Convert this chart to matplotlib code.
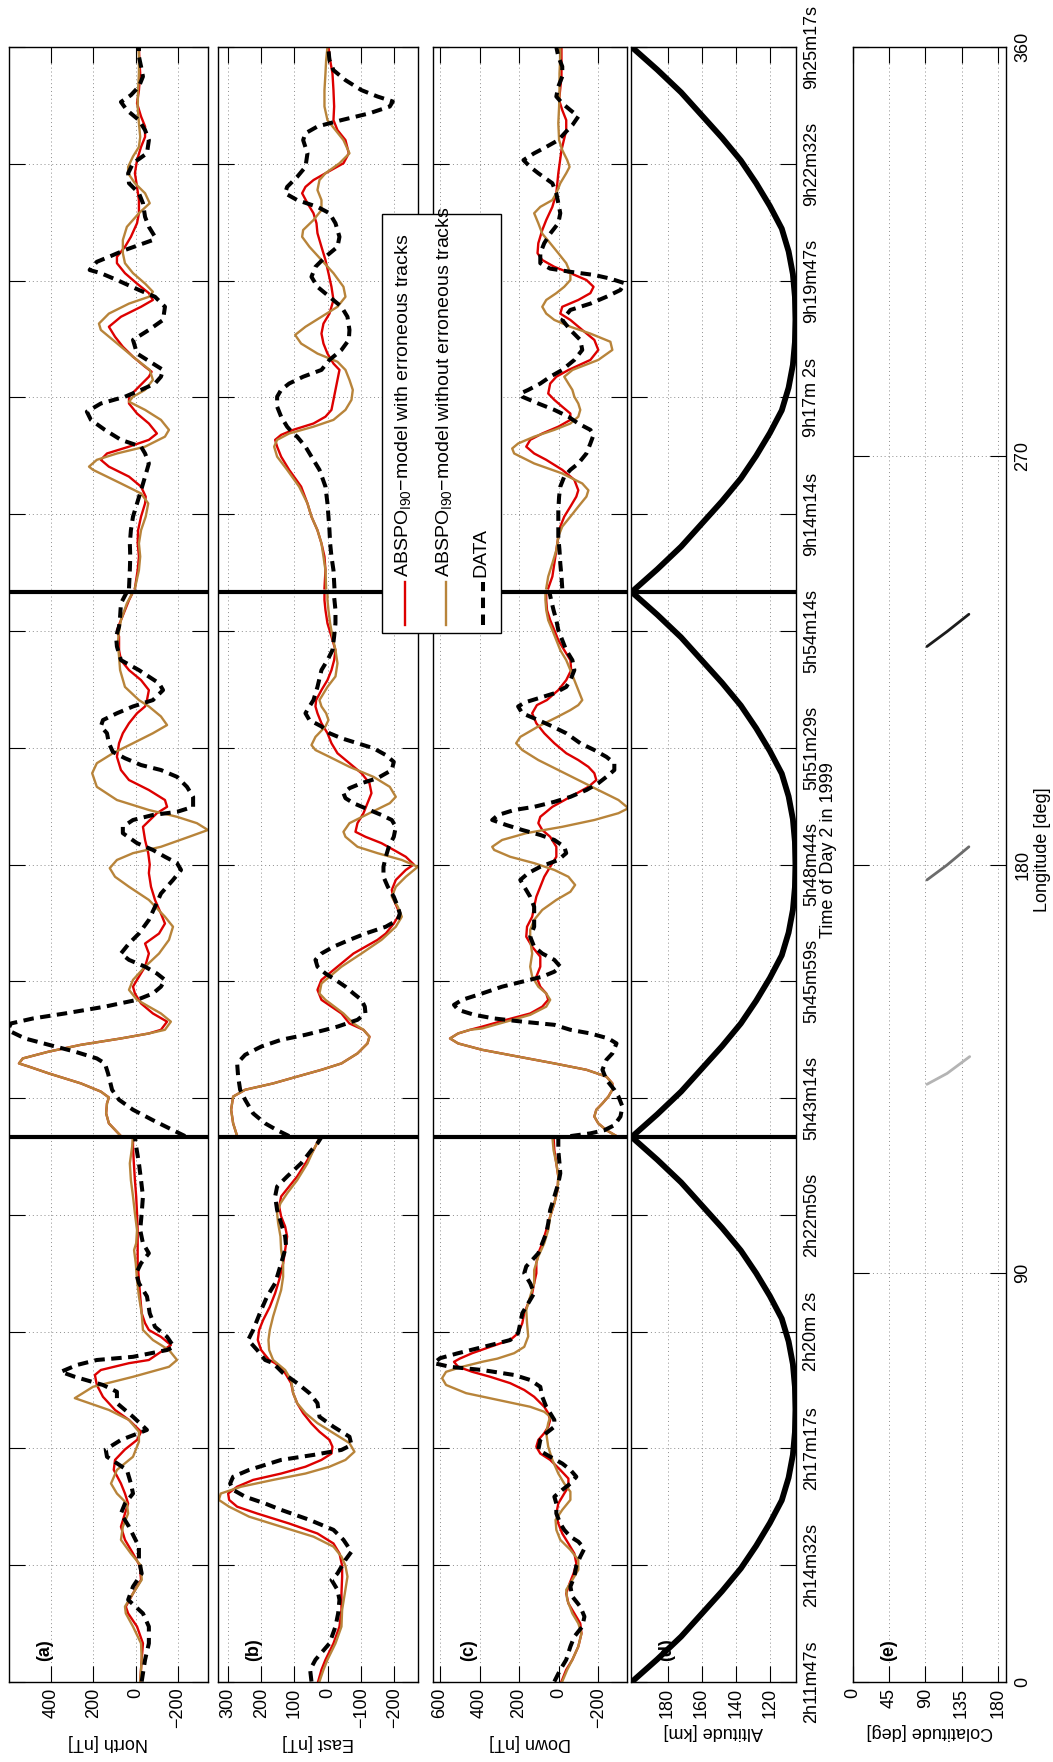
import numpy as np
import matplotlib
matplotlib.use("Agg")
import matplotlib.pyplot as plt
from matplotlib.patches import Rectangle
from matplotlib.lines import Line2D

plt.rcParams['font.family'] = ['Liberation Sans', 'DejaVu Sans']
plt.rcParams['mathtext.fontset'] = 'custom'
plt.rcParams['mathtext.rm'] = 'Liberation Sans'
plt.rcParams['mathtext.it'] = 'Liberation Sans:italic'
plt.rcParams['font.size'] = 13

# position along the three concatenated passes (0-360, 120 per pass)
time_ticks = np.arange(15) * 360 / 14
time_labels = ['2h11m47s', '2h14m32s', '2h17m17s', '2h20m 2s', '2h22m50s',
               '5h43m14s', '5h45m59s', '5h48m44s', '5h51m29s', '5h54m14s',
               '9h14m14s', '9h17m 2s', '9h19m47s', '9h22m32s', '9h25m17s']
lon_ticks = [0, 90, 180, 270, 360]

# (position, nT)
north_red = np.array([
    (0.1,-21),(4.9,-28),(8.5,-34),(12.2,-6),(15.1,36),(16.6,47),(19.5,13),(22.5,-25),(25.6,-19),(28.3,13),
    (31.3,51),(34.2,70),(37.1,51),(39.3,36),(41.5,51),(43.7,70),(46.7,104),(48.9,98),(51.2,51),(53.3,-6),
    (55.1,-25),(57.7,32),(59.9,98),(62.8,155),(65.4,184),(67.6,193),(68.7,165),(70.2,32),(70.9,-62),(72.7,-119),
    (74.2,-166),(76.0,-119),(77.5,-62),(79.0,-44),(81.2,-28),(84.9,-21),(88.5,-15),(92.2,-9),(99.5,-9),(103.2,-6),
    (106.9,-2),(110.5,4),(114.2,9),(117.9,13),(120.0,13),
    (120.2,70),(123.0,127),(125.2,140),(127.4,136),(128.7,127),(130.0,165),(131.8,259),(134.0,411),(135.5,505),(136.2,552),
    (137.3,534),(138.8,411),(140.3,259),(141.7,70),(142.8,-62),(143.6,-119),(145.4,-148),(147.2,-81),(149.4,-25),(151.6,4),
    (153.1,13),(154.6,-6),(157.5,-44),(160.4,-62),(162.6,-44),(164.8,-110),(167.0,-138),(169.2,-119),(172.2,-91),(175.1,-72),
    (178.1,-62),(180.0,-66),(182.5,-59),(185.4,-44),(188.3,-34),(191.3,-100),(192.7,-148),(194.2,-138),(196.4,-62),(198.6,32),
    (200.8,70),(203.7,89),(206.7,79),(208.9,61),(211.1,32),(213.3,-6),(214.8,-44),(216.2,-53),(218.4,-62),(220.6,-25),
    (222.8,32),(225.0,70),(227.2,79),(230.2,79),(231.6,89),(233.8,70),(236.0,51),(238.2,32),(240.0,13),
    (240.8,4),(244.8,-9),(247.8,-15),(250.7,-9),(253.6,-11),(256.6,-25),(259.5,-44),(261.0,-47),(263.2,-25),(265.4,32),
    (267.6,127),(269.1,165),(270.5,136),(272.0,32),(273.5,-62),(274.9,-100),(277.1,-62),(279.3,-6),(281.5,32),(283.0,32),
    (285.2,-15),(287.4,-62),(288.5,-75),(289.6,-44),(291.8,13),(294.0,61),(296.2,98),(298.4,127),(300.6,70),(302.8,-25),
    (304.3,-81),(305.8,-62),(307.9,-6),(310.2,51),(312.4,89),(313.8,89),(316.0,51),(318.2,23),(321.2,-6),(323.4,-15),
    (326.3,-15),(329.2,-6),(332.2,4),(335.1,-6),(338.0,-25),(340.2,-44),(342.5,-44),(344.7,-25),(347.6,-6),(350.5,-15),
    (354.2,-21),(357.1,-17),(360.0,-15)])

north_brown = np.array([
    (0.1,-21),(4.9,-28),(8.5,-25),(12.2,13),(15.1,47),(16.6,51),(19.5,13),(22.5,-28),(25.6,-25),(28.3,23),
    (31.3,70),(34.2,61),(37.1,36),(39.3,42),(41.5,89),(43.7,117),(46.7,89),(49.6,13),(52.9,-15),(55.1,-15),
    (57.7,32),(59.9,127),(62.5,288),(65.0,202),(67.2,13),(69.4,-157),(70.9,-195),(73.1,-157),(75.3,-81),(77.5,-34),
    (81.2,-28),(84.9,-15),(88.5,-6),(92.2,0),(95.1,8),(96.6,-2),(99.5,-6),(103.2,4),(106.9,13),(110.5,23),
    (114.2,28),(117.9,17),(120.0,13),
    (120.2,70),(123.0,127),(125.2,140),(127.4,136),(128.7,127),(130.0,165),(131.8,259),(134.0,411),(135.5,505),(136.2,552),
    (137.3,534),(138.8,411),(140.3,259),(141.7,70),(142.8,-62),(143.6,-138),(145.4,-166),(147.2,-119),(150.2,-6),(152.4,32),
    (154.6,13),(157.5,-44),(160.4,-110),(163.4,-157),(166.3,-176),(168.5,-138),(172.2,-62),(175.1,32),(177.3,98),(179.2,123),
    (181.0,89),(182.5,13),(183.9,-119),(186.1,-252),(187.6,-341),(189.1,-289),(190.5,-195),(192.0,-62),(194.2,89),(197.1,184),
    (200.1,206),(202.3,184),(204.5,108),(206.7,13),(208.9,-81),(210.7,-148),(212.6,-119),(214.8,-62),(216.2,-15),(219.1,51),
    (222.8,74),(225.8,79),(228.7,85),(231.3,79),(233.8,70),(237.5,42),(240.0,13),
    (240.8,4),(244.8,-15),(247.8,-21),(250.7,-15),(253.6,-25),(256.6,-47),(259.5,-59),(261.7,-25),(263.9,70),(266.9,202),
    (267.6,221),(269.1,184),(270.5,89),(272.0,-44),(274.2,-138),(275.7,-157),(277.9,-119),(280.1,-44),(281.9,32),(283.0,13),
    (284.5,-44),(286.7,-81),(288.9,-66),(291.8,13),(295.5,108),(297.7,165),(299.1,174),(301.3,127),(303.5,32),(305.0,-62),
    (306.1,-81),(307.9,-44),(310.2,13),(312.4,51),(314.6,61),(317.5,61),(320.4,42),(323.4,-15),(325.6,-66),(327.8,-44),
    (330.0,4),(332.2,36),(333.6,36),(335.9,13),(338.0,-15),(340.2,-21),(343.2,-15),(346.9,-9),(350.5,-11),(354.2,-15),
    (357.9,-15),(360.0,-13)])

north_data = np.array([
    (0.1,-28),(4.9,-44),(8.5,-62),(12.2,-62),(15.1,-34),(18.1,36),(21.0,13),(23.9,-28),(26.9,-15),(29.8,-15),
    (34.2,32),(37.1,70),(39.3,51),(41.5,13),(43.7,23),(46.7,42),(49.6,136),(51.2,142),(53.3,70),(55.5,-53),
    (58.4,13),(61.4,89),(63.9,89),(65.4,155),(67.2,288),(68.3,354),(69.8,278),(70.9,184),(71.6,13),(73.1,-148),
    (73.8,-180),(76.0,-148),(78.2,-91),(81.2,-66),(84.9,-53),(87.8,-15),(90.0,-2),(92.2,-25),(94.4,-62),(96.6,-34),
    (99.5,-21),(103.2,-28),(106.9,-34),(110.5,-25),(114.2,-15),(117.9,-2),(120.0,4),
    (120.2,-233),(121.5,-176),(123.7,-81),(126.0,13),(128.2,79),(130.4,112),(134.0,131),(136.2,146),(137.3,184),(138.8,288),
    (140.3,411),(141.7,524),(143.2,590),(144.0,600),(145.0,590),(146.1,486),(147.2,335),(148.7,146),(150.2,-6),(151.6,-81),
    (153.1,-119),(154.6,-138),(156.0,-100),(157.5,-44),(159.0,32),(160.4,70),(162.6,32),(164.8,-15),(167.8,-62),(170.7,-91),
    (173.6,-119),(176.6,-176),(178.8,-214),(180.3,-195),(181.7,-138),(183.2,-81),(184.7,-6),(186.9,61),(188.3,61),(189.8,13),
    (190.9,-81),(191.6,-195),(192.7,-271),(194.9,-271),(197.1,-242),(199.3,-195),(200.8,-119),(201.9,-25),(203.4,51),(204.8,108),
    (206.7,127),(208.9,136),(210.4,165),(211.8,155),(213.3,89),(214.8,13),(216.2,-81),(218.4,-129),(219.9,-110),(222.8,-15),
    (225.0,70),(228.0,89),(230.2,93),(232.4,79),(234.6,74),(237.5,70),(240.0,42),
    (240.8,32),(244.8,28),(247.8,26),(250.7,28),(253.6,23),(256.6,13),(259.5,-6),(262.4,-25),(265.4,-44),(268.3,-62),
    (270.5,-44),(272.0,-25),(273.5,70),(275.7,146),(277.9,212),(279.7,231),(281.5,165),(283.0,51),(284.5,-25),(285.9,-91),
    (287.4,-119),(288.9,-129),(290.3,-81),(292.5,-6),(295.5,13),(297.7,-62),(299.9,-129),(302.8,-138),(305.0,-91),(306.5,-15),
    (308.7,89),(310.2,165),(310.9,218),(312.7,184),(313.8,127),(315.3,51),(316.4,-15),(317.5,-81),(318.2,-91),(320.4,-62),
    (322.6,-44),(325.6,-34),(327.8,-15),(330.0,32),(332.2,36),(334.4,13),(336.6,-53),(339.5,-62),(341.7,-44),(343.9,-15),
    (346.1,42),(347.9,70),(349.4,23),(351.3,-15),(353.5,-34),(355.7,-25),(357.9,-15),(360.0,-15)])

east_red = np.array([
    (0.1,29),(2.7,19),(4.9,7),(8.5,-17),(12.2,-35),(15.9,-41),(19.5,-41),(23.2,-43),(25.6,-43),(28.3,-35),
    (30.5,-17),(32.7,31),(34.9,116),(37.1,212),(38.6,272),(40.1,296),(41.5,299),(43.0,272),(44.5,224),(45.9,140),
    (47.4,67),(48.9,19),(50.3,-11),(51.8,-14),(53.3,-5),(55.1,25),(56.9,49),(59.2,74),(61.4,92),(63.6,104),
    (65.8,110),(68.0,128),(70.2,158),(70.9,176),(73.1,200),(75.3,210),(77.5,206),(79.7,194),(82.6,174),(85.6,158),
    (88.5,146),(92.2,134),(95.1,128),(98.1,122),(100.3,128),(102.5,140),(104.7,146),(106.9,140),(109.1,116),(111.3,92),
    (114.2,67),(117.1,43),(120.0,23),
    (120.2,272),(123.0,284),(126.0,290),(128.9,284),(130.4,248),(131.8,164),(133.3,92),(134.8,19),(136.2,-41),(138.4,-89),
    (140.6,-119),(142.1,-125),(143.6,-107),(145.0,-65),(147.2,-41),(150.2,19),(152.4,31),(154.6,19),(157.5,-29),(160.4,-77),
    (163.4,-149),(164.8,-174),(167.0,-198),(169.2,-216),(172.2,-198),(174.4,-192),(176.6,-204),(178.8,-234),(180.0,-258),(181.7,-234),
    (183.2,-198),(184.7,-161),(186.1,-113),(187.2,-83),(189.1,-89),(191.3,-107),(193.5,-119),(195.7,-131),(197.9,-125),(200.1,-101),
    (202.3,-65),(204.5,-29),(206.7,-11),(208.9,1),(211.1,19),(213.3,31),(214.8,37),(216.2,35),(218.4,19),(220.6,1),
    (222.8,-11),(225.0,-19),(227.2,-23),(230.2,-11),(233.1,1),(236.0,7),(238.2,10),(240.0,10),
    (240.8,10),(244.8,7),(247.8,10),(250.7,19),(253.6,31),(256.6,49),(259.5,61),(263.2,80),(266.9,116),(269.8,140),
    (272.0,152),(273.5,158),(274.6,140),(275.7,104),(277.1,43),(278.6,7),(280.1,-11),(282.3,-17),(284.5,-23),(286.7,-29),
    (288.9,-35),(290.3,-17),(292.5,1),(294.7,13),(296.9,19),(299.1,13),(301.3,-5),(304.3,-17),(307.2,-11),(310.2,-2),
    (313.1,7),(316.0,19),(319.0,31),(321.2,34),(323.4,43),(325.6,61),(327.8,77),(329.2,67),(330.7,43),(332.2,7),
    (334.4,-47),(336.6,-63),(339.5,-53),(341.7,-29),(343.9,-17),(346.9,-19),(350.5,-17),(354.2,-14),(357.1,-7),(360.0,-2)])

east_brown = np.array([
    (0.1,25),(2.7,13),(4.9,1),(8.5,-23),(12.2,-41),(15.9,-43),(19.5,-51),(23.2,-59),(25.6,-53),(27.6,-41),
    (29.8,-17),(32.0,43),(34.2,140),(36.4,236),(38.6,296),(40.1,327),(41.5,321),(43.0,260),(44.5,164),(45.9,67),
    (47.4,-5),(48.9,-53),(50.7,-80),(52.6,-65),(54.8,-17),(57.0,31),(59.2,67),(61.4,92),(63.6,104),(66.5,110),
    (68.7,128),(70.9,164),(73.1,176),(75.3,178),(77.5,174),(80.5,164),(83.4,152),(86.3,140),(89.2,134),(92.2,134),
    (95.1,140),(98.1,142),(101.0,149),(103.2,152),(105.4,142),(107.6,122),(110.5,92),(114.2,61),(117.1,43),(120.0,23),
    (120.2,272),(123.0,284),(126.0,290),(128.9,284),(130.4,248),(131.8,164),(133.3,92),(134.8,19),(136.2,-41),(138.4,-89),
    (140.6,-119),(142.1,-125),(143.6,-107),(145.0,-77),(147.2,-47),(150.2,7),(151.6,25),(153.8,19),(157.5,-41),(160.4,-101),
    (163.4,-161),(166.3,-204),(168.5,-222),(170.7,-210),(172.9,-192),(175.1,-204),(177.3,-234),(179.5,-270),(181.0,-222),(182.5,-149),
    (183.9,-89),(186.1,-53),(187.2,-47),(189.1,-65),(191.3,-125),(193.5,-186),(194.9,-204),(197.1,-186),(199.3,-137),(201.5,-65),
    (203.7,-5),(205.2,37),(206.3,49),(208.1,37),(210.4,7),(211.8,-2),(213.3,5),(214.8,19),(216.2,25),(219.1,1),
    (221.4,-23),(224.3,-29),(227.2,-23),(230.2,-14),(233.1,-7),(236.0,-2),(238.2,1),(240.0,1),
    (240.8,5),(244.8,7),(247.8,13),(250.7,19),(253.6,31),(256.6,49),(259.5,61),(263.2,86),(266.9,122),(269.8,152),
    (272.0,161),(273.5,152),(274.9,116),(276.4,43),(277.9,-17),(280.1,-53),(282.3,-71),(284.5,-75),(286.7,-65),(288.9,-53),
    (290.7,-29),(292.5,31),(294.7,80),(296.6,98),(298.4,67),(300.6,19),(302.8,-29),(305.0,-53),(307.2,-47),(310.2,-17),
    (313.1,19),(316.0,55),(318.2,77),(319.7,74),(321.9,43),(324.1,19),(326.3,19),(328.5,31),(330.7,25),(332.2,7),
    (334.4,-35),(336.6,-65),(339.5,-47),(341.7,-23),(343.9,1),(346.9,10),(350.5,10),(354.2,7),(357.1,5),(360.0,1)])

east_data = np.array([
    (0.1,49),(2.7,53),(4.9,37),(8.5,-5),(12.2,-23),(15.1,-31),(18.1,-35),(20.3,-29),(22.5,-11),(23.9,-29),
    (26.9,-53),(28.7,-71),(31.3,-47),(33.5,-17),(35.7,55),(37.9,140),(39.3,188),(40.8,248),(42.3,284),(43.7,293),
    (45.2,284),(46.7,236),(48.9,140),(50.0,43),(51.1,-41),(52.2,-71),(54.0,-65),(56.2,-17),(58.4,25),(61.4,31),
    (63.6,55),(65.8,92),(68.0,134),(70.2,164),(70.9,188),(73.1,212),(75.3,239),(77.5,224),(79.7,212),(81.9,200),
    (84.9,182),(87.8,158),(90.7,146),(93.7,134),(95.9,125),(98.1,128),(101.0,140),(103.9,152),(106.9,158),(109.1,152),
    (111.3,122),(114.2,80),(117.1,49),(118.6,31),(120.0,19),
    (120.2,116),(121.5,152),(123.0,188),(125.2,224),(128.2,248),(130.4,263),(133.3,269),(136.2,272),(138.1,248),(139.9,200),
    (141.4,140),(142.5,67),(143.6,7),(144.3,-29),(145.8,-89),(147.2,-113),(148.7,-111),(150.2,-101),(151.6,-77),(153.1,-53),
    (154.6,-23),(156.0,7),(157.5,31),(159.0,37),(160.4,19),(161.9,-17),(163.4,-65),(164.8,-113),(166.3,-174),(167.8,-210),
    (169.2,-216),(170.7,-210),(172.9,-198),(175.1,-180),(177.3,-167),(179.5,-167),(181.7,-174),(183.9,-183),(186.1,-198),(188.3,-204),
    (189.8,-192),(190.9,-161),(192.0,-125),(193.5,-77),(194.6,-53),(195.7,-47),(196.8,-65),(197.9,-101),(199.0,-149),(200.8,-192),
    (202.6,-198),(204.1,-174),(205.6,-137),(206.7,-89),(207.8,-41),(208.9,-5),(210.4,19),(211.8,55),(213.3,67),(214.8,55),
    (216.2,43),(219.1,31),(222.8,19),(225.0,1),(227.2,-14),(230.2,-19),(233.1,-23),(236.0,-23),(238.2,-20),(240.0,-17),
    (240.8,-20),(244.8,-17),(247.8,-11),(250.7,-7),(253.6,-5),(256.6,-2),(259.5,1),(263.2,7),(266.9,25),(269.8,49),
    (272.0,67),(274.2,92),(274.9,104),(276.4,122),(278.6,140),(280.8,152),(283.0,152),(284.5,140),(285.9,116),(287.4,74),
    (288.9,19),(291.1,-5),(293.3,-41),(295.5,-63),(297.7,-65),(300.6,-59),(302.8,-41),(305.0,-5),(307.2,31),(309.4,49),
    (311.6,37),(313.8,7),(316.0,-29),(318.2,-35),(321.2,-23),(323.4,-5),(324.8,31),(326.3,92),(327.8,128),(329.2,122),
    (331.4,92),(333.6,67),(336.6,61),(339.5,74),(341.0,67),(342.5,31),(343.9,-41),(345.4,-125),(346.9,-186),(348.0,-195),
    (349.1,-149),(350.5,-101),(352.7,-53),(354.9,-17),(357.1,-5),(359.3,-2),(360.0,-2)])

down_red = np.array([
    (0.1,-14),(2.7,-38),(4.9,-69),(7.8,-99),(10.7,-115),(12.9,-109),(15.1,-79),(17.3,-49),(19.5,-38),(21.7,-55),
    (23.9,-75),(26.1,-89),(28.3,-79),(30.5,-49),(32.7,-18),(34.9,2),(37.1,12),(39.3,2),(41.5,-28),(43.0,-49),
    (44.8,-49),(46.7,-8),(48.9,43),(50.3,93),(51.8,113),(53.3,103),(54.8,73),(56.2,53),(57.7,43),(59.2,53),
    (60.6,73),(62.8,124),(64.3,174),(65.8,245),(67.2,346),(68.3,437),(69.4,508),(70.5,529),(71.2,500),(72.4,437),
    (73.8,346),(75.3,245),(76.8,205),(79.0,184),(81.2,174),(83.4,154),(85.6,134),(87.8,124),(90.0,113),(92.2,113),
    (94.4,103),(96.6,83),(99.5,63),(102.5,43),(105.4,22),(108.3,6),(111.3,2),(114.2,12),(117.1,22),(120.0,26),
    (120.2,-292),(121.5,-241),(123.0,-200),(124.5,-180),(126.0,-190),(127.4,-221),(128.9,-251),(130.4,-271),(131.8,-271),(133.3,-241),
    (134.8,-140),(136.2,22),(137.7,205),(139.2,387),(140.6,508),(141.7,549),(142.8,508),(143.6,448),(144.3,387),(145.8,265),
    (147.2,144),(148.7,83),(150.2,53),(151.6,63),(153.1,93),(155.3,113),(157.5,93),(159.7,93),(161.9,134),(164.1,164),
    (166.3,160),(168.5,134),(170.7,124),(172.9,113),(175.1,93),(177.3,73),(179.5,43),(181.7,12),(183.9,12),(186.1,43),
    (187.6,83),(189.1,103),(190.5,93),(192.7,32),(194.9,-59),(197.1,-150),(198.6,-190),(200.1,-180),(201.5,-150),(203.0,-99),
    (204.5,-38),(206.7,22),(208.9,73),(211.1,113),(213.3,134),(215.1,110),(216.2,60),(218.4,2),(220.6,-38),(222.8,-63),
    (225.0,-59),(227.2,-28),(229.4,2),(231.6,22),(233.8,43),(236.0,59),(238.2,63),(240.0,63),
    (240.8,53),(243.4,32),(246.3,22),(249.2,12),(252.2,2),(254.4,-8),(256.6,-28),(258.8,-59),(261.0,-89),(262.4,-99),
    (264.7,-79),(266.9,-18),(269.1,63),(270.5,124),(272.0,164),(273.5,144),(274.9,83),(276.4,2),(277.9,-59),(279.3,-59),
    (280.8,-18),(282.3,22),(283.7,53),(285.9,43),(287.4,12),(288.9,-50),(291.1,-160),(293.3,-200),(295.5,-180),(297.7,-119),
    (299.9,-59),(301.3,-8),(302.8,-18),(304.3,-99),(305.8,-160),(307.2,-176),(308.7,-140),(310.2,-59),(311.6,22),(313.1,83),
    (314.6,107),(316.8,103),(319.7,83),(321.9,63),(324.8,32),(327.8,12),(332.2,2),(337.3,-14),(341.7,-38),(343.9,-38),
    (346.1,-18),(348.3,-2),(353.5,-14),(360.0,-14)])

down_brown = np.array([
    (0.1,-18),(2.7,-43),(4.9,-69),(7.8,-99),(10.7,-115),(12.9,-99),(15.1,-69),(18.1,-43),(20.3,-38),(22.5,-69),
    (24.7,-99),(26.9,-99),(29.1,-59),(31.3,-8),(33.5,12),(35.7,16),(37.9,-18),(40.1,-59),(41.9,-59),(43.7,-28),
    (45.9,2),(48.9,32),(51.8,53),(54.8,63),(57.0,53),(58.4,43),(59.5,73),(60.6,144),(62.1,306),(63.6,468),
    (65.4,569),(66.9,589),(68.3,569),(69.4,488),(70.5,387),(71.2,310),(72.4,225),(73.8,174),(76.1,154),(79.0,160),
    (81.9,164),(84.9,144),(87.8,124),(90.7,124),(93.7,103),(96.6,73),(99.5,53),(102.5,43),(105.4,22),(108.3,6),
    (111.3,2),(114.2,12),(117.1,26),(120.0,32),
    (120.2,-292),(121.5,-241),(123.0,-200),(124.5,-180),(126.0,-190),(127.4,-221),(128.9,-251),(130.4,-271),(131.8,-271),(133.3,-241),
    (134.8,-140),(136.2,22),(137.7,205),(139.2,387),(140.6,508),(141.7,549),(142.8,508),(143.6,448),(143.9,387),(145.4,265),
    (146.9,144),(148.7,63),(150.2,43),(151.6,63),(153.1,103),(155.3,134),(157.5,144),(160.4,134),(163.4,144),(165.6,144),
    (167.8,124),(170.0,83),(172.2,12),(174.0,-59),(175.5,-83),(177.3,-49),(178.8,22),(180.3,124),(181.7,245),(183.2,326),
    (183.9,336),(185.4,286),(186.9,164),(188.3,-18),(189.8,-180),(191.3,-302),(192.4,-352),(194.2,-302),(196.4,-200),(198.6,-99),
    (200.8,2),(203.0,103),(205.2,184),(206.7,215),(208.1,194),(210.4,103),(212.6,2),(214.0,-59),(215.1,-99),(216.2,-119),
    (218.4,-99),(220.6,-79),(222.8,-59),(225.0,-38),(227.2,-8),(229.4,12),(231.6,32),(233.8,53),(236.0,63),(238.2,67),
    (240.0,67),
    (240.8,63),(243.4,53),(246.3,32),(249.2,12),(252.2,2),(254.4,-18),(256.6,-59),(258.8,-99),(261.0,-140),(262.4,-150),
    (263.9,-119),(266.1,-18),(268.3,124),(270.5,225),(271.6,235),(272.7,205),(274.2,124),(275.7,22),(277.1,-59),(278.6,-99),
    (280.1,-109),(281.5,-99),(283.0,-79),(284.5,-69),(285.9,-49),(287.4,-28),(288.9,-70),(291.1,-200),(293.3,-271),(295.1,-261),
    (296.9,-160),(298.4,-59),(299.9,22),(301.3,63),(302.8,83),(304.3,63),(305.8,12),(307.2,-28),(308.7,-59),(310.2,-59),
    (312.4,-38),(314.6,2),(316.8,43),(318.9,83),(321.2,103),(323.4,124),(324.8,93),(326.3,32),(327.8,12),(330.0,-8),
    (332.2,-38),(333.6,-55),(335.1,-43),(337.3,-18),(339.5,-2),(343.2,2),(346.9,-2),(350.5,-4),(354.2,-4),(357.9,-8),
    (360.0,-8)])

down_data = np.array([
    (0.1,22),(2.7,-8),(4.9,-38),(7.8,-59),(10.0,-79),(12.2,-119),(14.4,-130),(16.6,-109),(18.8,-69),(21.0,-59),
    (23.2,-79),(25.6,-89),(27.6,-109),(29.4,-130),(30.9,-99),(32.0,-59),(33.5,-28),(34.9,-8),(37.1,12),(39.3,12),
    (40.8,22),(42.3,-18),(43.7,-59),(45.2,-89),(46.7,-59),(48.1,-18),(49.6,43),(51.1,103),(53.3,93),(54.8,63),
    (56.2,22),(57.7,22),(59.2,43),(60.6,63),(62.8,83),(65.0,93),(66.5,144),(67.6,225),(68.7,387),(69.4,549),
    (70.2,630),(71.3,599),(72.4,508),(73.5,407),(74.6,306),(75.3,245),(76.8,205),(79.0,194),(81.2,184),(83.4,154),
    (85.6,124),(87.8,144),(90.0,174),(91.5,164),(92.9,134),(94.4,103),(96.6,83),(98.8,63),(101.0,53),(103.9,43),
    (106.9,22),(109.8,2),(112.0,-8),(114.2,-4),(117.1,2),(120.0,2),
    (120.2,-59),(120.8,-160),(121.5,-231),(122.6,-281),(124.5,-312),(126.7,-322),(128.9,-302),(130.4,-281),(132.6,-241),(134.8,-221),
    (137.0,-241),(138.4,-271),(140.6,-292),(141.7,-251),(142.8,-160),(143.6,-59),(144.7,22),(145.4,184),(146.1,326),(146.9,427),
    (148.0,508),(149.1,529),(150.2,488),(151.6,387),(153.1,286),(154.2,184),(155.3,83),(156.4,22),(157.5,-8),(159.0,22),
    (160.4,83),(161.9,124),(164.1,144),(166.3,124),(168.5,124),(170.7,124),(172.9,144),(175.1,174),(176.6,194),(178.1,154),
    (179.5,93),(181.0,2),(182.5,-38),(183.9,-28),(185.4,22),(186.5,93),(187.6,184),(188.7,265),(189.8,336),(190.9,306),
    (192.0,225),(192.7,124),(193.8,22),(194.9,-59),(196.4,-140),(197.9,-200),(199.3,-241),(200.8,-281),(202.3,-281),(203.7,-241),
    (205.2,-180),(206.7,-109),(208.9,-38),(210.4,32),(211.8,103),(213.3,184),(214.8,205),(215.7,170),(216.6,103),(217.7,22),
    (219.1,-38),(220.6,-59),(222.8,-79),(225.0,-69),(227.2,-38),(229.4,-18),(231.6,2),(233.8,12),(236.0,26),(238.2,38),
    (240.0,47),
    (240.8,-18),(243.4,-14),(246.3,-8),(249.2,-4),(252.2,2),(255.1,2),(258.0,2),(261.0,-2),(263.2,-8),(265.4,-28),
    (266.9,-59),(268.3,-99),(270.5,-140),(272.7,-160),(274.6,-176),(275.7,-160),(277.1,-99),(278.6,-49),(280.1,22),(281.5,103),
    (283.0,184),(283.7,194),(284.5,154),(285.9,93),(287.4,43),(288.9,-18),(291.1,-79),(293.3,-119),(295.5,-109),(297.7,-59),
    (299.9,-18),(302.1,-59),(303.5,-160),(305.0,-241),(306.5,-312),(308.0,-332),(309.0,-261),(309.8,-180),(310.5,-59),(311.2,43),
    (312.4,93),(314.6,93),(316.8,73),(318.9,43),(321.2,2),(323.4,-8),(325.6,2),(327.8,12),(330.0,32),(332.2,103),
    (333.6,144),(335.1,178),(336.6,124),(338.0,63),(339.5,2),(341.4,-38),(342.8,-69),(344.7,-99),(346.1,-59),(347.6,-18),
    (349.1,12),(351.3,2),(353.5,-18),(355.7,-18),(357.9,2),(360.0,12)])

# altitude along one pass (offset within pass, km); the three passes repeat it
alt_offset = np.arange(0, 121, 5)
alt_km = [201, 186, 172, 160, 148, 137, 128, 120, 113, 109, 106.5, 105.3, 105,
          105.3, 106.5, 109, 113, 120, 128, 137, 148, 160, 172, 186, 201]

# ground tracks of the erroneous passes: (longitude, colatitude)
tracks = [np.array([(131.6, 92), (134.0, 117), (137.7, 145)]),
          np.array([(176.6, 92), (179.9, 117), (183.9, 144)]),
          np.array([(228.0, 92), (231.3, 117), (235.1, 144)])]
track_colors = ['#b4b4b4', '#6c6c6c', '#1c1c1c']

RED = '#dd0000'
BROWN = '#b8843a'

W, H = 1053, 1762
fig = plt.figure(figsize=(W / 100, H / 100), dpi=100)


def box(x0, x1, y0=47, y1=1682):
    return [x0 / W, 1 - y1 / H, (x1 - x0) / W, (y1 - y0) / H]


def style(ax, yticks):
    ax.set_ylim(0, 360)
    ax.set_yticks(yticks)
    ax.tick_params(direction='in', length=11.5, width=0.8, top=True, right=True,
                   labelsize=13, pad=4)
    ax.tick_params(axis='x', labelrotation=90)
    ax.grid(True, linestyle=(0, (1, 3)), color='0.55', linewidth=0.7)
    ax.set_axisbelow(True)
    for s in ax.spines.values():
        s.set_linewidth(1.0)


def plot_passes(ax, pts, **kw):
    pos, val = pts[:, 0], pts[:, 1]
    for lo, hi in [(-1, 120), (120, 240), (240, 361)]:
        m = (pos > lo) & (pos <= hi)
        ax.plot(val[m], pos[m], **kw)


def separators(ax):
    for b in (120, 240):
        ax.axhline(b, color='black', linewidth=3.0, zorder=4)


def letter(ax, s, width_px):
    ax.text(36 / width_px, 0.0196, s, transform=ax.transAxes, rotation=90,
            ha='center', va='center', fontsize=13, fontweight='bold', zorder=1)


panels = [
    (box(8.8, 207.7), north_red, north_brown, north_data, (600, -340), [400, 200, 0, -200], 'North [nT]', '(a)'),
    (box(217.8, 417.8), east_red, east_brown, east_data, (330, -270), [300, 200, 100, 0, -100, -200], 'East [nT]', '(b)'),
    (box(433, 627), down_red, down_brown, down_data, (635, -345), [600, 400, 200, 0, -200], 'Down [nT]', '(c)'),
]

for rect, red, brown, data, xlim, xticks, label, tag in panels:
    ax = fig.add_axes(rect)
    style(ax, time_ticks)
    ax.set_yticklabels([])
    plot_passes(ax, red, color=RED, linewidth=1.7)
    plot_passes(ax, brown, color=BROWN, linewidth=1.7)
    plot_passes(ax, data, color='black', linewidth=2.9, dashes=(2.6, 1.6))
    separators(ax)
    ax.set_xlim(*xlim)
    ax.set_xticks(xticks)
    ax.set_xticklabels([str(t).replace('-', '\u2212') for t in xticks])
    ax.set_xlabel(label, rotation=180, fontsize=13, labelpad=4)
    letter(ax, tag, rect[2] * W)

# altitude
ax_d = fig.add_axes(box(631, 795.6))
style(ax_d, time_ticks)
for k in range(3):
    ax_d.plot(alt_km, alt_offset + 120 * k, color='black', linewidth=4.2, zorder=3,
              solid_capstyle='butt')
separators(ax_d)
ax_d.set_xlim(201.4, 104.9)
ax_d.set_xticks([180, 160, 140, 120])
ax_d.tick_params(axis='y', labelleft=False, labelright=True, pad=5.5)
ax_d.set_yticklabels(time_labels, rotation=90, va='center')
ax_d.yaxis.set_label_position('right')
ax_d.set_ylabel('Time of Day 2 in 1999', fontsize=13, labelpad=2)
ax_d.yaxis.set_label_coords(1.0 + 24 / 164.6, 0.509)
ax_d.set_xlabel('Altitude [km]', rotation=180, fontsize=13, labelpad=4)
letter(ax_d, '(d)', 164.6)

# colatitude / longitude map of the passes
ax_e = fig.add_axes(box(852.7, 1006))
style(ax_e, lon_ticks)
ax_e.set_xlim(0, 190)
ax_e.set_xticks([0, 45, 90, 135, 180])
for trk, c in zip(tracks, track_colors):
    ax_e.plot(trk[:, 1], trk[:, 0], color=c, linewidth=2.0, solid_capstyle='round')
ax_e.tick_params(axis='y', labelleft=False, labelright=True, pad=6)
ax_e.set_yticklabels([str(t) for t in lon_ticks], rotation=90, va='center')
ax_e.yaxis.set_label_position('right')
ax_e.set_ylabel('Longitude [deg]', fontsize=13, labelpad=2)
ax_e.yaxis.set_label_coords(1.0 + 28 / 153.3, 0.509)
ax_e.set_xlabel('Colatitude [deg]', rotation=180, fontsize=13, labelpad=4)
letter(ax_e, '(e)', 153.3)

# legend drawn as figure artists, rotated with the layout
def fx(x):
    return x / W


def fy(y):
    return 1 - y / H


fig.add_artist(Rectangle((fx(381.7), fy(633.3)), fx(500.7) - fx(381.7), fy(214) - fy(633.3),
                         transform=fig.transFigure, facecolor='white', edgecolor='black',
                         linewidth=1.0, zorder=5))
entries = [
    (405, dict(color=RED, linewidth=1.7), 'ABSPO$_{\\mathrm{I90}}$\u2212model with erroneous tracks'),
    (445.7, dict(color=BROWN, linewidth=1.7), 'ABSPO$_{\\mathrm{I90}}$\u2212model without erroneous tracks'),
    (482.7, dict(color='black', linewidth=2.9, dashes=(2.6, 1.6)), 'DATA'),
]
for x, kw, txt in entries:
    fig.add_artist(Line2D([fx(x), fx(x)], [fy(625), fy(581.7)], transform=fig.transFigure,
                          zorder=6, **kw))
    fig.text(fx(x - 2), fy(577), txt, rotation=90, rotation_mode='anchor',
             ha='left', va='center', fontsize=14, zorder=7)

fig.savefig('out.png', dpi=100)
